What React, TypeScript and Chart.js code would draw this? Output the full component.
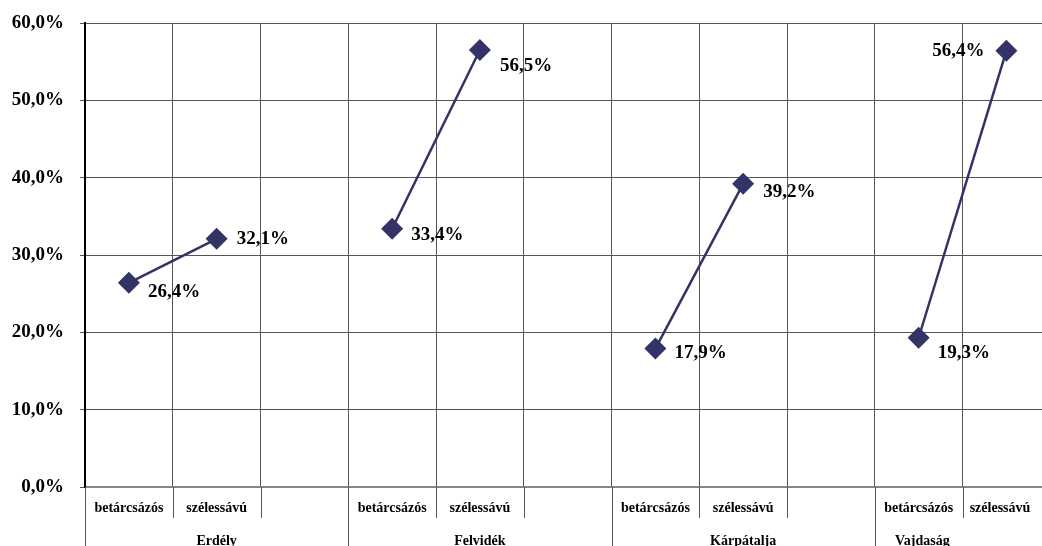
import React, { useEffect, useRef } from "react";
import { Chart, registerables } from "chart.js";

Chart.register(...registerables);

const groups = ["Erdély", "Felvidék", "Kárpátalja", "Vajdaság"];
const subCategories = ["betárcsázós", "szélessávú", ""];
const categories = groups.flatMap(() => subCategories);
const values: (number | null)[] = [
  26.4, 32.1, null,
  33.4, 56.5, null,
  17.9, 39.2, null,
  19.3, 56.4, null,
];
const yMin = 0;
const yMax = 60;
const yStep = 10;

// label placement (dx, dy, align) relative to the marker
const labelPlacement: ([number, number, CanvasTextAlign] | null)[] = [
  [19, 9, "left"], [20, 0, "left"], null,
  [19, 6, "left"], [20, 16, "left"], null,
  [19, 5, "left"], [20, 8, "left"], null,
  [19, 15, "left"], [-22, 0, "right"], null,
];

const VIEW_W = 1042;
const SERIES_COLOR = "#333366";
const FONT = "'Liberation Serif', 'DejaVu Serif', serif";

const fmt = (v: number) => v.toFixed(1).replace(".", ",") + "%";

const dataLabelPlugin = {
  id: "dataLabels",
  afterDatasetsDraw(chart: any) {
    const ctx = chart.ctx;
    const meta = chart.getDatasetMeta(0);
    ctx.save();
    ctx.font = `bold 19px ${FONT}`;
    ctx.fillStyle = "#000";
    ctx.textBaseline = "middle";
    meta.data.forEach((pt: any, i: number) => {
      const v = values[i];
      const pl = labelPlacement[i];
      if (v == null || !pl) return;
      ctx.textAlign = pl[2];
      ctx.fillText(fmt(v), pt.x + pl[0], pt.y + pl[1]);
    });
    ctx.restore();
  },
};

const xAxisPlugin = {
  id: "multiLevelX",
  afterDraw(chart: any) {
    const ctx = chart.ctx;
    const xs = chart.scales.x;
    const area = chart.chartArea;
    const n = categories.length;
    const w = (area.right - area.left) / n;
    const bottom = area.bottom;
    const canvasH = chart.height;
    ctx.save();
    ctx.strokeStyle = "#555";
    ctx.lineWidth = 1;
    for (let i = 0; i <= n; i++) {
      const x = Math.round(area.left + i * w) + 0.5;
      const isGroup = i % subCategories.length === 0;
      ctx.beginPath();
      ctx.moveTo(x, bottom);
      ctx.lineTo(x, isGroup ? canvasH : bottom + 31);
      ctx.stroke();
    }
    ctx.fillStyle = "#000";
    ctx.textAlign = "center";
    ctx.textBaseline = "middle";
    ctx.font = `bold 14px ${FONT}`;
    categories.forEach((c, i) => {
      if (!c) return;
      const cx = xs.getPixelForValue(i);
      ctx.fillText(c, Math.min(cx, VIEW_W - 42), bottom + 21);
    });
    groups.forEach((g, gi) => {
      const start = area.left + gi * subCategories.length * w;
      const full = start + subCategories.length * w;
      const end = Math.min(full, VIEW_W);
      ctx.fillText(g, (start + end) / 2 - (end < full ? 36 : 0), bottom + 54);
    });
    ctx.restore();
  },
};

export default function App() {
  const ref = useRef<HTMLCanvasElement>(null);
  useEffect(() => {
    if (!ref.current) return;
    const chart = new Chart(ref.current, {
      type: "line",
      data: {
        labels: categories,
        datasets: [
          {
            data: values,
            borderColor: SERIES_COLOR,
            backgroundColor: SERIES_COLOR,
            borderWidth: 2.5,
            pointStyle: "rectRot",
            pointRadius: 11,
            pointBorderWidth: 0,
            spanGaps: false,
          },
        ],
      },
      options: {
        responsive: false,
        animation: false,
        layout: { padding: { top: 23, right: 0, bottom: 0, left: 0 } },
        plugins: { legend: { display: false }, tooltip: { enabled: false } },
        scales: {
          x: {
            type: "category",
            offset: true,
            grid: { offset: true, color: "#555", drawTicks: false, lineWidth: 1 },
            border: { display: true, color: "#888", width: 2 },
            ticks: { display: false },
            afterFit: (s: any) => {
              s.height = 69;
            },
          },
          y: {
            min: yMin,
            max: yMax,
            grid: { color: "#555", tickLength: 5, lineWidth: 1 },
            border: { color: "#000", width: 2 },
            ticks: {
              stepSize: yStep,
              padding: 16,
              color: "#000",
              font: { family: FONT, size: 19, weight: "bold", lineHeight: 0.4 },
              callback: (v: any) => fmt(Number(v)),
            },
            afterFit: (s: any) => {
              s.width = 85;
            },
          },
        },
      },
      plugins: [dataLabelPlugin, xAxisPlugin],
    });
    return () => chart.destroy();
  }, []);
  return (
    <div
      style={{
        position: "fixed",
        left: 0,
        top: 0,
        width: 1042,
        height: 546,
        overflow: "hidden",
        background: "#fff",
      }}
    >
      <canvas ref={ref} width={1149} height={556} style={{ display: "block" }} />
    </div>
  );
}
